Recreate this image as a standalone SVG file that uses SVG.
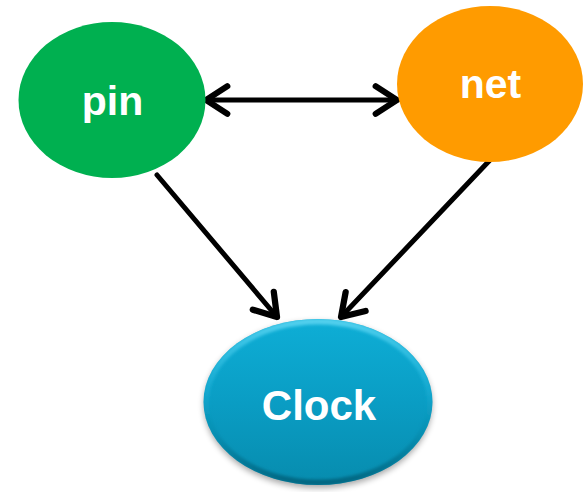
<svg xmlns="http://www.w3.org/2000/svg" width="584" height="492" viewBox="0 0 584 492">
  <style>
    .label { font-family: "Liberation Sans", Arial, sans-serif; font-weight: bold; fill: #ffffff; text-anchor: middle; }
    .edge { stroke: #000000; stroke-width: 5; fill: none; stroke-linecap: round; }
  </style>
  <defs>
    <marker id="arrow" markerUnits="userSpaceOnUse" markerWidth="40" markerHeight="40" refX="0" refY="0" viewBox="-24 -16 30 32" orient="auto-start-reverse" overflow="visible">
      <path d="M -17,-11 L 0,0 L -17,11" fill="none" stroke="#000000" stroke-width="5" stroke-linecap="round" stroke-linejoin="round"/>
    </marker>
    <linearGradient id="clockFill" x1="0" y1="0" x2="0" y2="1">
      <stop offset="0" stop-color="#0eaed6"/>
      <stop offset="0.5" stop-color="#0a9dc4"/>
      <stop offset="1" stop-color="#078cae"/>
    </linearGradient>
    <linearGradient id="clockRim" x1="0" y1="0" x2="0" y2="1">
      <stop offset="0" stop-color="#5fd6f2" stop-opacity="0.85"/>
      <stop offset="0.45" stop-color="#2cc0e6" stop-opacity="0.25"/>
      <stop offset="0.7" stop-color="#066f8c" stop-opacity="0.2"/>
      <stop offset="1" stop-color="#055c75" stop-opacity="0.8"/>
    </linearGradient>
    <filter id="soft" x="-20%" y="-20%" width="140%" height="140%">
      <feGaussianBlur stdDeviation="3"/>
    </filter>
    <filter id="bevelBlur" x="-10%" y="-10%" width="120%" height="120%">
      <feGaussianBlur stdDeviation="1.5"/>
    </filter>
    <clipPath id="clockClip">
      <ellipse cx="318" cy="402" rx="114.5" ry="83"/>
    </clipPath>
  </defs>

  <g id="connectors">
    <line class="edge" x1="206" y1="100" x2="397" y2="100" marker-start="url(#arrow)" marker-end="url(#arrow)"/>
    <line class="edge" x1="157" y1="175" x2="277" y2="317" marker-end="url(#arrow)"/>
    <line class="edge" x1="490" y1="160" x2="341" y2="317" marker-end="url(#arrow)"/>
  </g>

  <g id="pin">
    <ellipse cx="112" cy="100" rx="93.5" ry="78" fill="#00b050"/>
    <text class="label" x="112.5" y="115" font-size="41">pin</text>
  </g>

  <g id="net">
    <ellipse cx="490" cy="84" rx="93" ry="78" fill="#ff9b00"/>
    <text class="label" x="490.5" y="98" font-size="41">net</text>
  </g>

  <g id="clock">
    <!-- soft drop shadow under the bevelled ellipse -->
    <ellipse cx="318" cy="405" rx="114" ry="83" fill="#000000" opacity="0.35" filter="url(#soft)"/>
    <ellipse cx="318" cy="402" rx="114.5" ry="83" fill="url(#clockFill)"/>
    <g clip-path="url(#clockClip)">
      <ellipse cx="318" cy="402" rx="112" ry="80.5" fill="none" stroke="url(#clockRim)" stroke-width="6" filter="url(#bevelBlur)"/>
    </g>
    <text class="label" x="319" y="420" font-size="42">Clock</text>
  </g>
</svg>
